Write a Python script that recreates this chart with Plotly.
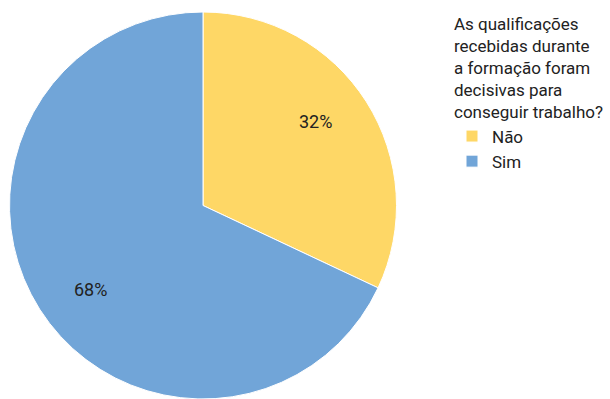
import math
import plotly.graph_objects as go

# Survey answers
labels = ["Não", "Sim"]
percentages = [32, 68]
colors = ["#FED766", "#71A5D8"]
question = "As qualificações<br>recebidas durante<br>a formação foram<br>decisivas para<br>conseguir trabalho?"

W, H = 610, 399
dom_x = [9.5 / W, 396.5 / W]
dom_y = [0.0, 0.97]

fig = go.Figure(
    go.Pie(
        labels=labels,
        values=percentages,
        sort=False,
        direction="clockwise",
        rotation=0,
        marker=dict(colors=colors, line=dict(color="white", width=1)),
        textinfo="none",
        hoverinfo="label+percent",
        domain=dict(x=dom_x, y=dom_y),
    )
)

# Percentage labels placed inside each slice, around its middle angle
cx = (dom_x[0] + dom_x[1]) / 2 * W
cy = (dom_y[0] + dom_y[1]) / 2 * H
radius = min((dom_x[1] - dom_x[0]) * W, (dom_y[1] - dom_y[0]) * H) / 2
total = sum(percentages)
start = 0.0
for v in percentages:
    share = v / total
    mid = start + share / 2
    theta = 2 * math.pi * mid - math.radians(4.5)
    dist = 0.725 * radius
    px = cx + dist * math.sin(theta)
    py = cy + dist * math.cos(theta)
    fig.add_annotation(
        x=px / W, y=py / H, xref="paper", yref="paper",
        text=f"{round(share * 100)}%", showarrow=False,
        font=dict(family="Roboto", size=18, color="#222222"),
        xanchor="center", yanchor="middle",
    )
    start += share

fig.update_layout(
    width=W,
    height=H,
    margin=dict(l=0, r=0, t=0, b=0),
    paper_bgcolor="white",
    plot_bgcolor="white",
    font=dict(family="Roboto", size=16, color="#222222"),
    showlegend=True,
    legend=dict(
        title=dict(text=question, font=dict(family="Roboto", size=17, color="#222222")),
        x=452 / W, xanchor="left",
        y=1 - 8 / H, yanchor="top",
        font=dict(family="Roboto", size=17, color="#222222"),
        bgcolor="rgba(0,0,0,0)",
        itemclick=False,
    ),
)

fig.write_html("out.html")
